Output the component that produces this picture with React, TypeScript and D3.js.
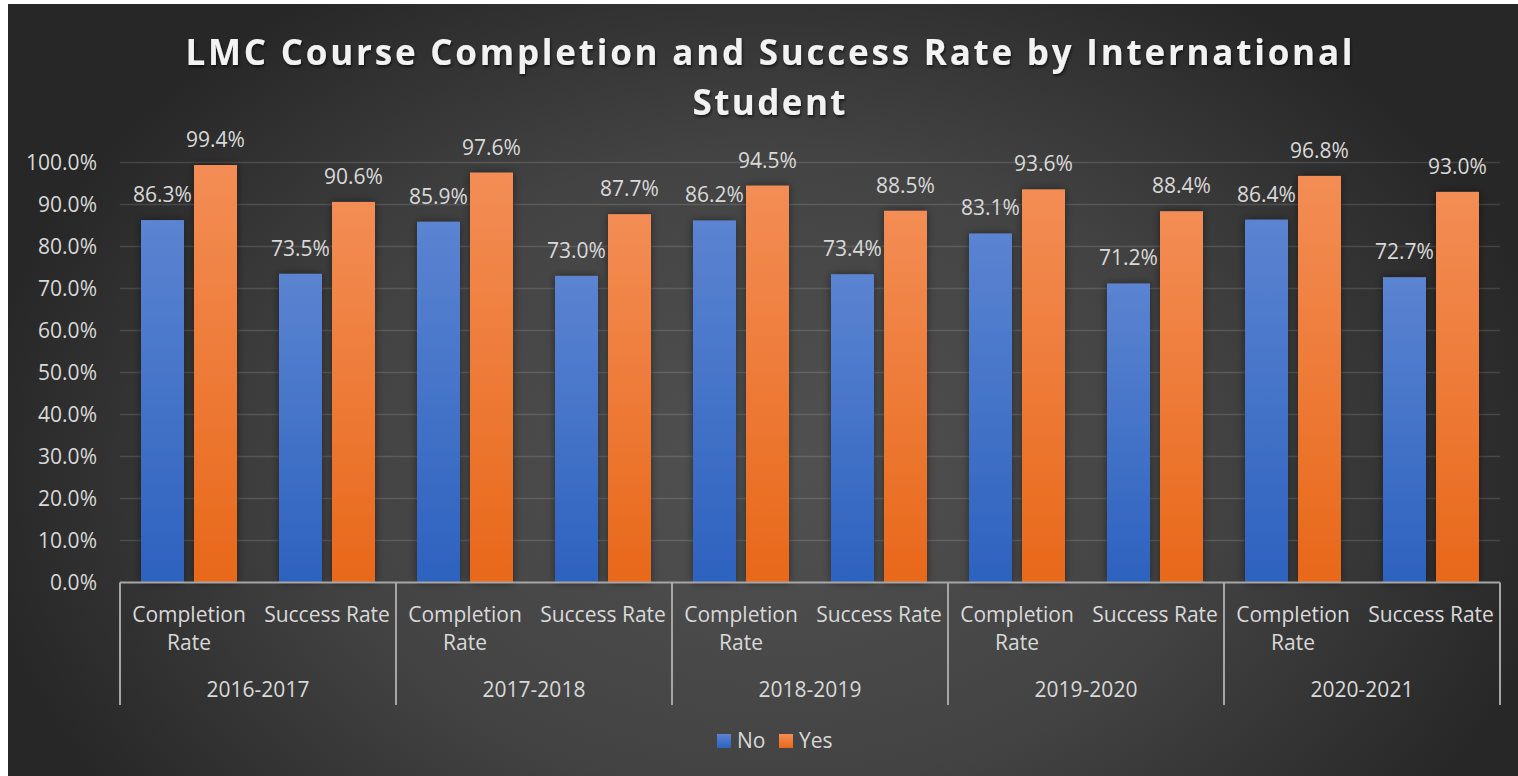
import React from "react";
import * as d3 from "d3";

const years = ["2016-2017", "2017-2018", "2018-2019", "2019-2020", "2020-2021"];
const metrics = ["Completion Rate", "Success Rate"];
const metricLines = [["Completion", "Rate"], ["Success Rate"]];
const seriesNames = ["No", "Yes"];
// values per year: [Completion, Success]
const noValues = [
  [86.3, 73.5],
  [85.9, 73.0],
  [86.2, 73.4],
  [83.1, 71.2],
  [86.4, 72.7],
];
const yesValues = [
  [99.4, 90.6],
  [97.6, 87.7],
  [94.5, 88.5],
  [93.6, 88.4],
  [96.8, 93.0],
];
const yTicks = [0, 10, 20, 30, 40, 50, 60, 70, 80, 90, 100];
const title1 = "LMC Course Completion and Success Rate by International";
const title2 = "Student";

const W = 1518;
const H = 776;
const plotL = 120;
const plotR = 1500;
const plotT = 162.5;
const plotB = 582.5;
const FONT = "'Open Sans', 'Noto Sans', sans-serif";
const FS = 21;

export default function App() {
  const x0 = d3.scaleBand<string>().domain(years).range([plotL, plotR]).padding(0);
  const x1 = d3.scaleBand<string>().domain(metrics).range([0, x0.bandwidth()]).padding(0);
  const x2 = d3
    .scaleBand<string>()
    .domain(seriesNames)
    .range([0, x1.bandwidth()])
    .paddingInner(10 / 53)
    .paddingOuter(21 / 53);
  const y = d3.scaleLinear().domain([0, 100]).range([plotB, plotT]);
  const fmt = d3.format(".1f");

  const bars: { key: string; x: number; w: number; v: number; s: string }[] = [];
  years.forEach((yr, i) => {
    metrics.forEach((m, j) => {
      [noValues[i][j], yesValues[i][j]].forEach((v, k) => {
        bars.push({
          key: `${yr}-${m}-${k}`,
          x: (x0(yr) as number) + (x1(m) as number) + (x2(seriesNames[k]) as number),
          w: x2.bandwidth(),
          v,
          s: seriesNames[k],
        });
      });
    });
  });

  const sepXs = [...years.map((yr) => x0(yr) as number), plotR];
  const titleCx = 769;

  return (
    <svg
      width={W}
      height={H}
      style={{ position: "absolute", left: 0, top: 0, display: "block" }}
      xmlns="http://www.w3.org/2000/svg"
    >
      <defs>
        <radialGradient
          id="bg"
          gradientUnits="userSpaceOnUse"
          cx={770}
          cy={470}
          r={800}
          gradientTransform="translate(770 470) scale(1 0.72) translate(-770 -470)"
        >
          <stop offset="0" stopColor="#515151" />
          <stop offset="0.55" stopColor="#434343" />
          <stop offset="1" stopColor="#272727" />
        </radialGradient>
        <linearGradient id="gNo" x1="0" y1="0" x2="0" y2="1">
          <stop offset="0" stopColor="#5b84d1" />
          <stop offset="1" stopColor="#2d62bf" />
        </linearGradient>
        <linearGradient id="gYes" x1="0" y1="0" x2="0" y2="1">
          <stop offset="0" stopColor="#f38d55" />
          <stop offset="1" stopColor="#e8681a" />
        </linearGradient>
        <filter id="barShadow" x="-30%" y="-10%" width="160%" height="120%">
          <feDropShadow dx="0" dy="0" stdDeviation="4" floodColor="#000" floodOpacity="0.45" />
        </filter>
        <filter id="titleShadow" x="-5%" y="-30%" width="110%" height="160%">
          <feDropShadow dx="1" dy="2" stdDeviation="1.5" floodColor="#000" floodOpacity="0.6" />
        </filter>
      </defs>

      <rect x={0} y={0} width={W} height={H} fill="#ffffff" />
      <rect x={8} y={4} width={W - 8} height={H - 4} fill="url(#bg)" />

      {/* title */}
      <g filter="url(#titleShadow)" fill="#f2f2f2" fontFamily={FONT} fontWeight={700} fontSize={35}>
        <text x={titleCx} y={65} textAnchor="middle" textLength={1167} lengthAdjust="spacing">
          {title1}
        </text>
        <text x={titleCx} y={115} textAnchor="middle" textLength={153} lengthAdjust="spacing">
          {title2}
        </text>
      </g>

      {/* gridlines */}
      <g>
        {yTicks.slice(1).map((t) => (
          <line
            key={t}
            x1={plotL}
            x2={plotR}
            y1={y(t)}
            y2={y(t)}
            stroke="#ffffff"
            strokeOpacity={0.13}
            strokeWidth={1.5}
          />
        ))}
      </g>

      {/* y tick labels */}
      <g fill="#d9d9d9" fontFamily={FONT} fontSize={FS} textAnchor="end">
        {yTicks.map((t) => (
          <text key={t} x={97} y={y(t) + 7.5}>
            {fmt(t)}%
          </text>
        ))}
      </g>

      {/* bars */}
      <g filter="url(#barShadow)">
        {bars.map((b) => (
          <rect
            key={b.key}
            x={b.x}
            y={y(b.v)}
            width={b.w}
            height={plotB - y(b.v)}
            fill={b.s === "No" ? "url(#gNo)" : "url(#gYes)"}
          />
        ))}
      </g>

      {/* data labels */}
      <g fill="#d9d9d9" fontFamily={FONT} fontSize={FS} textAnchor="middle">
        {bars.map((b) => (
          <text key={b.key} x={b.x + b.w / 2} y={y(b.v) - 18}>
            {fmt(b.v)}%
          </text>
        ))}
      </g>

      {/* axis line */}
      <line x1={plotL} x2={plotR} y1={plotB} y2={plotB} stroke="#a6a6a6" strokeWidth={2} />
      {sepXs.map((sx, i) => (
        <line key={i} x1={sx} x2={sx} y1={plotB} y2={705} stroke="#a6a6a6" strokeWidth={2} />
      ))}

      {/* category labels */}
      <g fill="#d9d9d9" fontFamily={FONT} fontSize={FS} textAnchor="middle">
        {years.map((yr) =>
          metrics.map((m, j) => {
            const cx = (x0(yr) as number) + (x1(m) as number) + x1.bandwidth() / 2;
            return metricLines[j].map((ln, li) => (
              <text key={`${yr}-${m}-${li}`} x={cx} y={622 + li * 28}>
                {ln}
              </text>
            ));
          })
        )}
        {years.map((yr) => (
          <text key={yr} x={(x0(yr) as number) + x0.bandwidth() / 2} y={697}>
            {yr}
          </text>
        ))}
      </g>

      {/* legend */}
      <g fontFamily={FONT} fontSize={FS} fill="#d9d9d9">
        <rect x={717} y={734} width={14} height={14} fill="url(#gNo)" />
        <text x={737} y={748}>No</text>
        <rect x={779} y={734} width={14} height={14} fill="url(#gYes)" />
        <text x={799} y={748}>Yes</text>
      </g>
    </svg>
  );
}
